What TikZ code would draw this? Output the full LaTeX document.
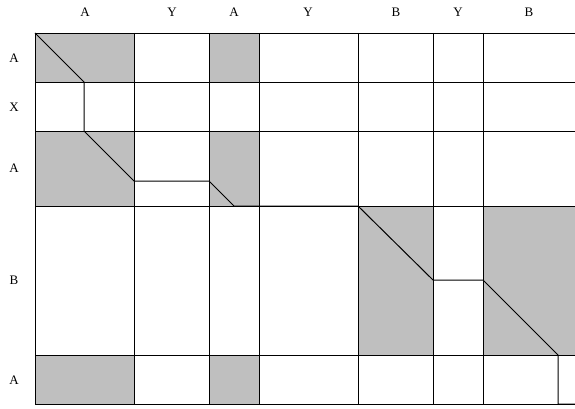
\documentclass[tikz,border=0pt]{standalone}
\usepackage{fontspec}
\setmainfont{Liberation Serif}
\begin{document}
\begin{tikzpicture}[x=1pt,y=-1pt,
  cellfill/.style={fill=black!25},
  gridline/.style={line width=0.9pt, draw=black},
  pathline/.style={line width=1pt, draw=black},
  lbl/.style={font=\fontsize{13}{15}\selectfont, inner sep=0pt}]
\useasboundingbox (0,0) rectangle (575,409);
% shaded cells
\fill[cellfill] (35,33) rectangle (134,82);
\fill[cellfill] (209,33) rectangle (259,82);
\fill[cellfill] (35,131) rectangle (134,206);
\fill[cellfill] (209,131) rectangle (259,206);
\fill[cellfill] (358,206) rectangle (433,355);
\fill[cellfill] (483,206) rectangle (575,355);
\fill[cellfill] (35,355) rectangle (134,404);
\fill[cellfill] (209,355) rectangle (259,404);
% grid
\foreach \x in {35,134,209,259,358,433,483} \draw[gridline] (\x,33) -- (\x,404);
\foreach \y in {33,82,131,206,355,404} \draw[gridline] (35,\y) -- (575,\y);
% path
\coordinate (p0) at (35,33);
\coordinate (p1) at (84,82);
\coordinate (p2) at (84,131);
\coordinate (p3) at (134,181);
\coordinate (p4) at (209,181);
\coordinate (p5) at (234,206);
\coordinate (p6) at (358,206);
\coordinate (p7) at (433,280);
\coordinate (p8) at (483,280);
\coordinate (p9) at (558,355);
\coordinate (p10) at (558,404);
\coordinate (p11) at (575,404);
\draw[pathline] (p0) -- (p1) -- (p2) -- (p3) -- (p4) -- (p5) -- (p6) -- (p7) -- (p8) -- (p9) -- (p10) -- (p11);
% column labels
\node[lbl] (c1) at (85,12) {A};
\node[lbl] (c2) at (172,12) {Y};
\node[lbl] (c3) at (234,12) {A};
\node[lbl] (c4) at (308,12) {Y};
\node[lbl] (c5) at (396,12) {B};
\node[lbl] (c6) at (458,12) {Y};
\node[lbl] (c7) at (529,12) {B};
% row labels
\node[lbl] (r1) at (14,58) {A};
\node[lbl] (r2) at (14,107) {X};
\node[lbl] (r3) at (14,168) {A};
\node[lbl] (r4) at (14,280) {B};
\node[lbl] (r5) at (14,380) {A};
\end{tikzpicture}
\end{document}
